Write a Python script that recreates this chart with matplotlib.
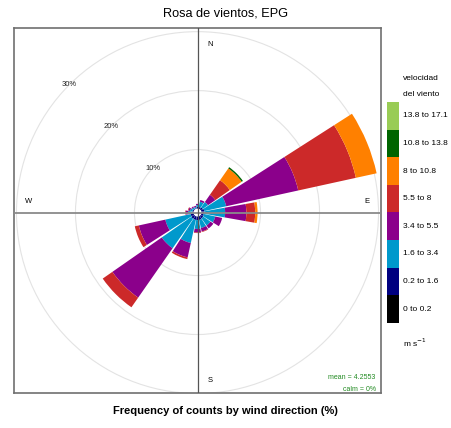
import numpy as np
import matplotlib
matplotlib.use("Agg")
import matplotlib.pyplot as plt
from matplotlib.patches import Wedge, Circle, Rectangle

plt.rcParams["font.family"] = ["Liberation Sans", "DejaVu Sans"]

# direcciones (grados desde el norte) y frecuencia (%) por clase de velocidad
wd = [0, 22.5, 45, 67.5, 90, 112.5, 135, 157.5, 180, 202.5, 225, 247.5, 270, 292.5, 315, 337.5]
f_00_02 = [0, 0, 0, 0, 0, 0, 0, 0, 0, 0, 0, 0, 0, 0, 0, 0]
f_02_16 = [0.3, 0.3, 0.4, 0.5, 0.5, 0.4, 0.5, 0.6, 0.6, 0.6, 0.6, 0.5, 0.2, 0.2, 0.1, 0.1]
f_16_34 = [0.3, 0.9, 1.1, 3.8, 3.5, 2.0, 1.5, 1.4, 1.5, 4.0, 6.1, 4.4, 0.7, 0.4, 0.3, 0.2]
f_34_55 = [0.2, 0.3, 1.5, 12.5, 3.6, 1.2, 0.6, 0.6, 0.6, 2.5, 10.2, 4.6, 0.4, 0.3, 0.2, 0.2]
f_55_80 = [0, 0, 3.0, 10.0, 1.5, 0, 0, 0.1, 0.1, 0.3, 2.0, 0.7, 0.1, 0.1, 0, 0]
f_80_108 = [0, 0, 2.45, 3.6, 0.4, 0, 0, 0, 0, 0, 0, 0, 0, 0, 0, 0]
f_108_138 = [0, 0, 0.25, 0, 0, 0, 0, 0, 0, 0, 0, 0, 0, 0, 0, 0]
f_138_171 = [0, 0, 0, 0, 0, 0, 0, 0, 0, 0, 0, 0, 0, 0, 0, 0]

bins = ["0 to 0.2", "0.2 to 1.6", "1.6 to 3.4", "3.4 to 5.5", "5.5 to 8",
        "8 to 10.8", "10.8 to 13.8", "13.8 to 17.1"]
cols = ["#000000", "#000080", "#0099CC", "#8B008B", "#CC2929",
        "#FF8000", "#006400", "#99CC55"]
rings = [10, 20, 30]
mean_ws = 4.2553
calm = 0

freqs = np.array([f_00_02, f_02_16, f_16_34, f_34_55, f_55_80,
                  f_80_108, f_108_138, f_138_171])
OFF = 0.68          # hueco central (%)
ANG = 22.5
SEG = 0.9

fig = plt.figure(figsize=(4.51, 4.28), dpi=100)
ax = fig.add_axes([14 / 451, 35 / 428, 367 / 451, 365 / 428])
ax.set_xlim(-31.1, 31.1)
ax.set_ylim(-30.6, 31.3)
ax.set_xticks([]); ax.set_yticks([])
for s in ax.spines.values():
    s.set_color("#707070"); s.set_linewidth(1.2)

for r in rings:
    ax.add_patch(Circle((0, 0), OFF + r, fill=False, ec="#E3E3E3", lw=0.8, zorder=0))
    a = np.deg2rad(135)
    ax.text((OFF + r) * np.cos(a), (OFF + r) * np.sin(a), f"{r}%", fontsize=5.5,
            ha="center", va="center", color="#222", zorder=1)

ax.axhline(0, color="#8A8A8A", lw=1.3, zorder=3)
ax.axvline(0, color="#555555", lw=0.9, zorder=3)
ax.text(2.1, 28.5, "N", fontsize=5.5, ha="center", va="center")
ax.text(2.1, -28.5, "S", fontsize=5.5, ha="center", va="center")
ax.text(28.7, 1.8, "E", fontsize=5.5, ha="center", va="center")
ax.text(-28.7, 1.8, "W", fontsize=5.5, ha="center", va="center")

cum = np.cumsum(freqs, axis=0)
for i, d in enumerate(wd):
    t0 = 90 - d - SEG * ANG / 2
    t1 = 90 - d + SEG * ANG / 2
    prev = 0
    for b in range(len(bins)):
        top = cum[b, i]
        if top - prev > 0:
            ax.add_patch(Wedge((0, 0), OFF + top, t0, t1, width=top - prev,
                               fc=cols[b], ec="none", zorder=2))
        prev = top

ax.text(30.2, -28.0, f"mean = {mean_ws}", fontsize=5, color="forestgreen",
        ha="right", va="center")
ax.text(30.2, -30.0, f"calm = {calm}%", fontsize=5, color="forestgreen",
        ha="right", va="center")

fig.text(0.5, 1 - 14 / 428, "Rosa de vientos, EPG", fontsize=9.2, ha="center", va="center")
fig.text(0.5, 1 - 411 / 428, "Frequency of counts by wind direction (%)", fontsize=8,
         fontweight="bold", ha="center", va="center")

# leyenda
kx0, kx1 = 387 / 451, 399 / 451
ktop, kbot = 1 - 102 / 428, 1 - 323 / 428
kh = (ktop - kbot) / len(bins)
for b in range(len(bins)):
    y0 = kbot + b * kh
    fig.add_artist(Rectangle((kx0, y0), kx1 - kx0, kh, transform=fig.transFigure,
                             fc=cols[b], ec="none"))
    fig.text(403 / 451, y0 + kh / 2, bins[b], fontsize=6, ha="left", va="center")
fig.text(403 / 451, 1 - 79 / 428, "velocidad", fontsize=6, ha="left", va="center")
fig.text(403 / 451, 1 - 95 / 428, "del viento", fontsize=6, ha="left", va="center")
fig.text(403 / 451, 1 - 343 / 428, r"m s$^{-1}$", fontsize=6, ha="left", va="center")

fig.savefig("out.png", dpi=100)
